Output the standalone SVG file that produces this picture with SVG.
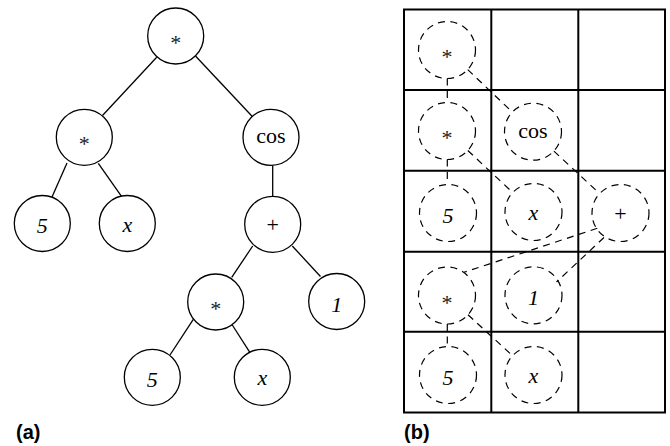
<svg xmlns="http://www.w3.org/2000/svg" width="670" height="446" viewBox="0 0 670 446">
  <style>
    .node { fill: #fff; stroke: #000; stroke-width: 1.3; }
    .dnode { fill: none; stroke: #000; stroke-width: 1.2; stroke-dasharray: 7 5.5; }
    .edge { stroke: #000; stroke-width: 1.3; fill: none; }
    .dedge { stroke: #000; stroke-width: 1.2; fill: none; stroke-dasharray: 7 5.5; }
    .grid { stroke: #000; stroke-width: 2; fill: none; }
    text.t { font-family: 'Liberation Serif', Tinos, 'Times New Roman', serif; font-size: 22px; text-anchor: middle; fill: #000; }
    text.i { font-style: italic; }
    text.star { fill: #222; }
    text.lbl { font-family: 'Liberation Sans', Arial, sans-serif; font-size: 20px; font-weight: bold; fill: #000; }
  </style>

  <!-- (a) expression tree -->
  <g id="tree-edges">
    <line class="edge" x1="156.7" y1="57.3" x2="102.5" y2="115.5"/>
    <line class="edge" x1="195.5" y1="56" x2="252.3" y2="116.5"/>
    <line class="edge" x1="67" y1="163" x2="52" y2="197"/>
    <line class="edge" x1="98.3" y1="163.3" x2="121.7" y2="196.7"/>
    <line class="edge" x1="272.7" y1="165.5" x2="272.7" y2="196.3"/>
    <line class="edge" x1="252.7" y1="246" x2="231.7" y2="277.3"/>
    <line class="edge" x1="292.3" y1="246" x2="320.5" y2="276.5"/>
    <line class="edge" x1="193.3" y1="319.3" x2="170" y2="355"/>
    <line class="edge" x1="232.3" y1="325" x2="250" y2="352.7"/>
  </g>

  <g id="a-root"><circle class="node" cx="175.7" cy="36" r="28"/><text class="t star" x="175.7" y="50">*</text></g>
  <g id="a-mul1"><circle class="node" cx="84.3" cy="137.3" r="28"/><text class="t star" x="84.3" y="151.3">*</text></g>
  <g id="a-cos"><circle class="node" cx="271" cy="137.3" r="28"/><text class="t" x="271" y="143.3">cos</text></g>
  <g id="a-five1"><circle class="node" cx="42.3" cy="223.5" r="28"/><text class="t i" x="42.3" y="233">5</text></g>
  <g id="a-x1"><circle class="node" cx="127.3" cy="223.5" r="28"/><text class="t i" x="127.3" y="231.5">x</text></g>
  <g id="a-plus"><circle class="node" cx="272.7" cy="224.3" r="28"/><text class="t" x="272.7" y="232.3">+</text></g>
  <g id="a-mul2"><circle class="node" cx="215.7" cy="302" r="28"/><text class="t star" x="215.7" y="316">*</text></g>
  <g id="a-one"><circle class="node" cx="336.7" cy="301.5" r="28"/><text class="t i" x="336.7" y="311.5">1</text></g>
  <g id="a-five2"><circle class="node" cx="152.3" cy="377.3" r="28"/><text class="t i" x="152.3" y="386.8">5</text></g>
  <g id="a-x2"><circle class="node" cx="262.3" cy="377.3" r="28"/><text class="t i" x="262.3" y="385.3">x</text></g>

  <text class="lbl" x="16" y="439">(a)</text>

  <!-- (b) grid layout of the same tree -->
  <g id="grid">
    <rect class="grid" x="404" y="9.5" width="261" height="403"/>
    <line class="grid" x1="491.3" y1="9.5" x2="491.3" y2="412.5"/>
    <line class="grid" x1="578.3" y1="9.5" x2="578.3" y2="412.5"/>
    <line class="grid" x1="404" y1="90" x2="665" y2="90"/>
    <line class="grid" x1="404" y1="170.7" x2="665" y2="170.7"/>
    <line class="grid" x1="404" y1="251.7" x2="665" y2="251.7"/>
    <line class="grid" x1="404" y1="331.7" x2="665" y2="331.7"/>
  </g>

  <g id="grid-edges">
    <line class="dedge" x1="467.7" y1="69.6" x2="512.3" y2="112.1"/>
    <line class="dedge" x1="447.3" y1="78.5" x2="447.3" y2="102.5"/>
    <line class="dedge" x1="467.8" y1="150.5" x2="512.7" y2="192.5"/>
    <line class="dedge" x1="447.3" y1="159.5" x2="447.3" y2="184.5"/>
    <line class="dedge" x1="553.9" y1="151.1" x2="599.6" y2="193.6"/>
    <line class="dedge" x1="597.3" y1="228.3" x2="464" y2="272.3"/>
    <line class="dedge" x1="604" y1="237.5" x2="556.5" y2="282"/>
    <line class="dedge" x1="447.3" y1="324" x2="447.3" y2="346.5"/>
    <line class="dedge" x1="468" y1="314.8" x2="512.5" y2="355.7"/>
  </g>

  <g id="b-root"><circle class="dnode" cx="447" cy="50" r="28.5"/><text class="t star" x="447" y="64">*</text></g>
  <g id="b-mul1"><circle class="dnode" cx="447" cy="131" r="28.5"/><text class="t star" x="447" y="145">*</text></g>
  <g id="b-cos"><circle class="dnode" cx="533" cy="131.7" r="28.5"/><text class="t" x="533" y="137.7">cos</text></g>
  <g id="b-five1"><circle class="dnode" cx="448" cy="213" r="28.5"/><text class="t i" x="448" y="222.5">5</text></g>
  <g id="b-x1"><circle class="dnode" cx="533.5" cy="212" r="28.5"/><text class="t i" x="533.5" y="220">x</text></g>
  <g id="b-plus"><circle class="dnode" cx="620.5" cy="213" r="28.5"/><text class="t" x="620.5" y="221">+</text></g>
  <g id="b-mul2"><circle class="dnode" cx="447" cy="295.5" r="28.5"/><text class="t star" x="447" y="309.5">*</text></g>
  <g id="b-one"><circle class="dnode" cx="533.5" cy="295.3" r="28.5"/><text class="t i" x="533.5" y="305">1</text></g>
  <g id="b-five2"><circle class="dnode" cx="448" cy="375" r="28.5"/><text class="t i" x="448" y="384.5">5</text></g>
  <g id="b-x2"><circle class="dnode" cx="533.5" cy="375" r="28.5"/><text class="t i" x="533.5" y="383">x</text></g>

  <text class="lbl" x="404" y="439">(b)</text>
</svg>
